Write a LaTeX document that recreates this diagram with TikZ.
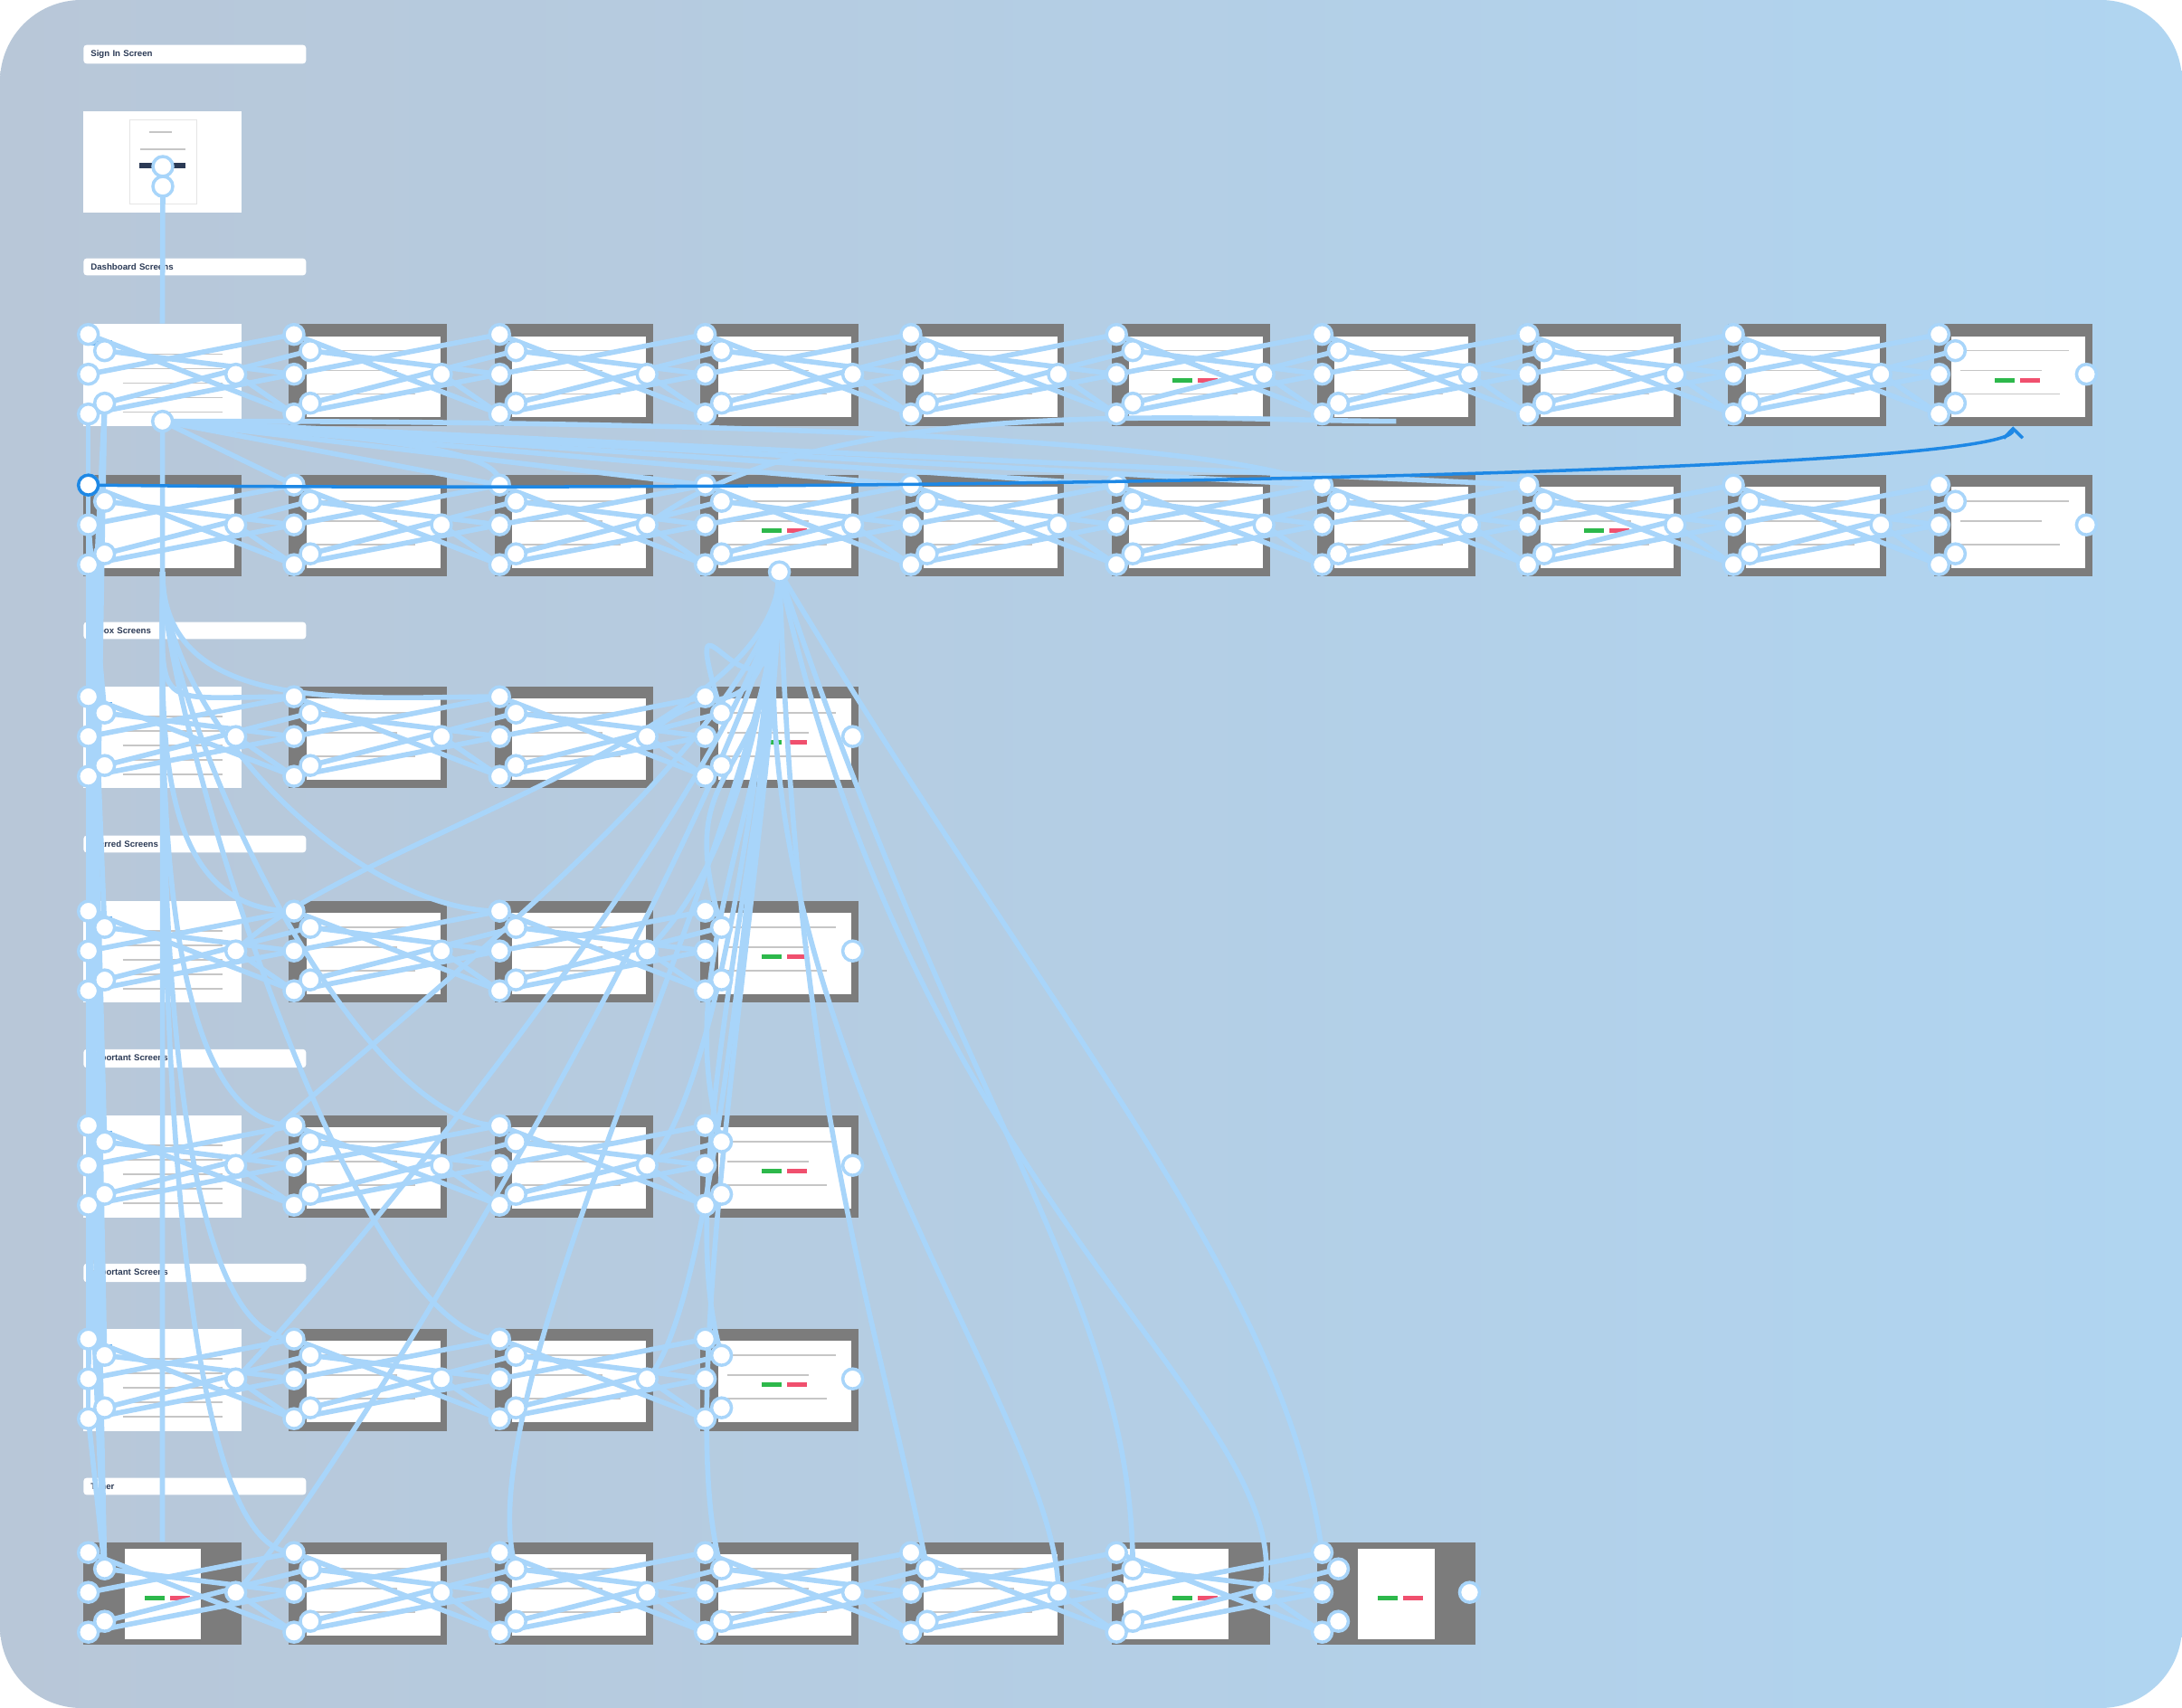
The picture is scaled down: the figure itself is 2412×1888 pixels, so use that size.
\documentclass[tikz,border=0pt]{standalone}
\usepackage{fontspec}
\setmainfont{Liberation Sans}
\usetikzlibrary{positioning, calc, arrows.meta}

\definecolor{wirecol}{HTML}{A8D5FA}
\definecolor{flowcol}{HTML}{1E88E5}
\definecolor{framegray}{HTML}{7C7C7C}
\definecolor{labeltxt}{HTML}{2B3A55}
\definecolor{bgleft}{HTML}{B8C7D8}
\definecolor{bgright}{HTML}{B0D5F1}
\definecolor{okgreen}{HTML}{2DB84B}
\definecolor{nored}{HTML}{F0506E}

\begin{document}
\begin{tikzpicture}[
    x=0.02cm, y=-0.02cm,              % one unit = one pixel of the reference
    frame/.style={rectangle, fill=framegray, minimum width=3.5cm, minimum height=2.26cm, inner sep=0pt},
    whiteframe/.style={frame, fill=white},
    sectlabel/.style={rectangle, rounded corners=2pt, fill=white, anchor=west, minimum width=4.92cm,
        minimum height=0.36cm, text width=4.6cm, align=left, inner xsep=0.15cm,
        font=\fontsize{5.5}{6}\selectfont\bfseries, text=labeltxt},
    wire/.style={draw=wirecol, line width=3.2pt},
    hot/.style={circle, draw=wirecol, line width=2pt, fill=white, minimum size=0.44cm, inner sep=0pt},
    flowline/.style={draw=flowcol, line width=2pt},
    textline/.style={draw=gray!45, line width=0.8pt}
    ]
    \useasboundingbox (0,0) rectangle (2412,1888);
    \fill[white] (0,0) rectangle (2412,1888);
    \shade[left color=bgleft, right color=bgright, rounded corners=1.8cm] (0,0) rectangle (2412,1888);

    % Section labels
    \node[sectlabel] (lblsign)  at (92,60)   {Sign In Screen};
    \node[sectlabel] (lbldash)  at (92,295)  {Dashboard Screens};
    \node[sectlabel] (lblinbox) at (92,697)  {Inbox Screens};
    \node[sectlabel] (lblstar)  at (92,933)  {Starred Screens};
    \node[sectlabel] (lblimp)   at (92,1170) {Important Screens};
    \node[sectlabel] (lblimpb)  at (92,1407) {Important Screens};
    \node[sectlabel] (lbltimer) at (92,1643) {Timer};

    % Screens
    \node[whiteframe] (sg) at (179.5,179) {};
    \foreach \r/\n/\y in {d/10/414.5,e/10/581,i/4/815,s/4/1052,m/4/1289,n/4/1525,t/7/1761}
        \foreach \c in {1,...,\n}
            \node[frame] (\r\c) at ({179.5+(\c-1)*227.3},\y) {};
    \foreach \f in {d1,i1,s1,m1,n1}
        \node[whiteframe] at (\f) {};

    % White cards inside the grey screens
    \foreach \r/\n in {d/10,e/10,i/4,s/4,m/4,n/4,t/5}
        \foreach \c in {2,...,\n} {
            \fill[white] ($(\r\c.north west)+(20,14)$) rectangle ($(\r\c.south east)+(-8,-10)$);
            \draw[textline] ($(\r\c.north west)+(30,30)$) -- ++(120,0);
            \draw[textline] ($(\r\c.north west)+(30,52)$) -- ++(90,0);
            \draw[textline] ($(\r\c.north west)+(30,78)$) -- ++(110,0);
        }
    \fill[white] ($(e1.north west)+(20,14)$) rectangle ($(e1.south east)+(-8,-10)$);
    \foreach \f in {t1,t7}
        \fill[white] ($(\f.north west)+(46,8)$) rectangle ($(\f.south east)+(-45,-6)$);
    \fill[white] ($(t6.north west)+(14,8)$) rectangle ($(t6.south east)+(-46,-6)$);
    \foreach \f in {d6,d10,e4,e8,i4,s4,m4,n4,t1,t6,t7} {
        \fill[okgreen] ($(\f.north west)+(68,60)$) rectangle ++(22,5);
        \fill[nored]   ($(\f.north west)+(96,60)$) rectangle ++(22,5);
    }
    \foreach \f in {d1,i1,s1,m1,n1} {
        \fill[flowcol!70] ($(\f.north west)+(4,18)$) rectangle ++(28,6);
        \foreach \k in {0,1,2,3,4}
            \draw[textline] ($(\f.north west)+(44,34+\k*16)$) -- ++(110,0);
    }
    \draw[gray!20, fill=white] (143,132) rectangle (217,225);
    \fill[labeltxt] (154,180) rectangle (205,186);
    \draw[textline] (165,146) -- (190,146);
    \draw[textline] (155,165) -- (205,165);

    % Hot spots of every screen
    \foreach \r/\n in {d/10,e/10,i/4,s/4,m/4,n/4,t/7}
        \foreach \c in {1,...,\n} {
            \coordinate (\r\c-la) at ($(\r\c.north west)+(6,12)$);
            \coordinate (\r\c-lb) at ($(\r\c.north west)+(6,56)$);
            \coordinate (\r\c-lc) at ($(\r\c.north west)+(6,100)$);
            \coordinate (\r\c-ta) at ($(\r\c.north west)+(24,30)$);
            \coordinate (\r\c-tb) at ($(\r\c.north west)+(24,88)$);
            \coordinate (\r\c-rb) at ($(\r\c.north west)+(169,56)$);
            \coordinate (\r\c-bt) at ($(\r\c.north west)+(88,108)$);
        }
    \coordinate (sg-ha) at (180,184);
    \coordinate (sg-hb) at (180,206);

    % Links between neighbouring screens
    \foreach \r/\m in {d/9,e/9,i/3,s/3,m/3,n/3,t/6}
        \foreach \p in {1,...,\m} {
            \pgfmathtruncatemacro\q{\p+1}
            \draw[wire] (\r\p-ta) -- (\r\q-lb);
            \draw[wire] (\r\p-la) -- (\r\q-lc);
            \draw[wire] (\r\p-lb) -- (\r\q-la);
            \draw[wire] (\r\p-tb) -- (\r\q-ta);
            \draw[wire] (\r\p-lc) -- (\r\q-lb);
            \draw[wire] (\r\p-rb) -- (\r\q-lc);
        }

    % Sign in to dashboard, and the first column
    \draw[wire] (sg-hb) -- (d1.north);
    \draw[wire] (d1-bt) -- (t1.north);
    \draw[wire] (e1-la) -- (n1-lc);
    \foreach \f in {i1,s1,m1,n1} {
        \draw[wire] (d1-lc) -- (\f-la);
        \draw[wire] (d1-tb) -- (\f-lb);
        \draw[wire] (e1-lb) -- (\f-ta);
        \draw[wire] (\f-lc) -- (t1-ta);
    }

    % Dashboard to the second dashboard row
    \foreach \c in {2,...,8}
        \draw[wire] (d1-bt) -- (e\c-la);
    \draw[wire] (d1-bt) .. controls (500,465) and (1300,470) .. (e7-la);
    \draw[wire] (d1-bt) .. controls (350,480) and (560,490) .. (e3-la);

    % Long links down the page
    \foreach \f in {i2,s2,m2,n2,i3,s3,m3,n3,t2}
        \draw[wire] (e1-bt) .. controls +(0,160) and +(-160,0) .. (\f-la);
    \foreach \f in {s1,m1,n1,t1}
        \draw[wire] (\f-rb) .. controls +(120,-120) and +(0,180) .. (e4-bt);
    \foreach \f in {i3,s3,m3,n3}
        \draw[wire] (\f-rb) .. controls +(80,-80) and +(-20,200) .. (e4-bt);
    \foreach \f in {i4,s4,m4,n4,t3,t4}
        \draw[wire] (e4-bt) .. controls +(0,250) and +(-60,-200) .. (\f-ta);
    \draw[wire] (e4-bt) .. controls +(20,600) and +(-60,-300) .. (t5-ta);
    \draw[wire] (e4-bt) .. controls +(200,600) and +(0,-300) .. (t6-ta);
    \draw[wire] (e4-bt) .. controls +(300,500) and +(-40,-300) .. (t7-la);
    \draw[wire] (e4-bt) .. controls +(150,700) and +(40,-200) .. (t6-rb);
    \draw[wire] (e4-bt) .. controls +(-60,500) and +(0,-200) .. (t5-rb);
    \draw[wire] (e3-rb) .. controls +(200,-150) and +(-200,0) .. (d7-bt);

    % Hot spot circles
    \foreach \r/\n in {d/10,e/10,i/4,s/4,m/4,n/4,t/7}
        \foreach \c in {1,...,\n}
            \foreach \h in {la,lb,lc,ta,tb,rb}
                \node[hot] at (\r\c-\h) {};
    \node[hot] at (sg-ha) {};
    \node[hot] at (sg-hb) {};
    \node[hot] at (d1-bt) {};
    \node[hot] at (e4-bt) {};

    % Starting flow
    \draw[flowline, -{Straight Barb[length=6pt, width=12pt]}] (e1-la) .. controls (900,545) and (2226,525) .. (d10.south);
    \node[hot, draw=flowcol] at (e1-la) {};
\end{tikzpicture}
\end{document}
